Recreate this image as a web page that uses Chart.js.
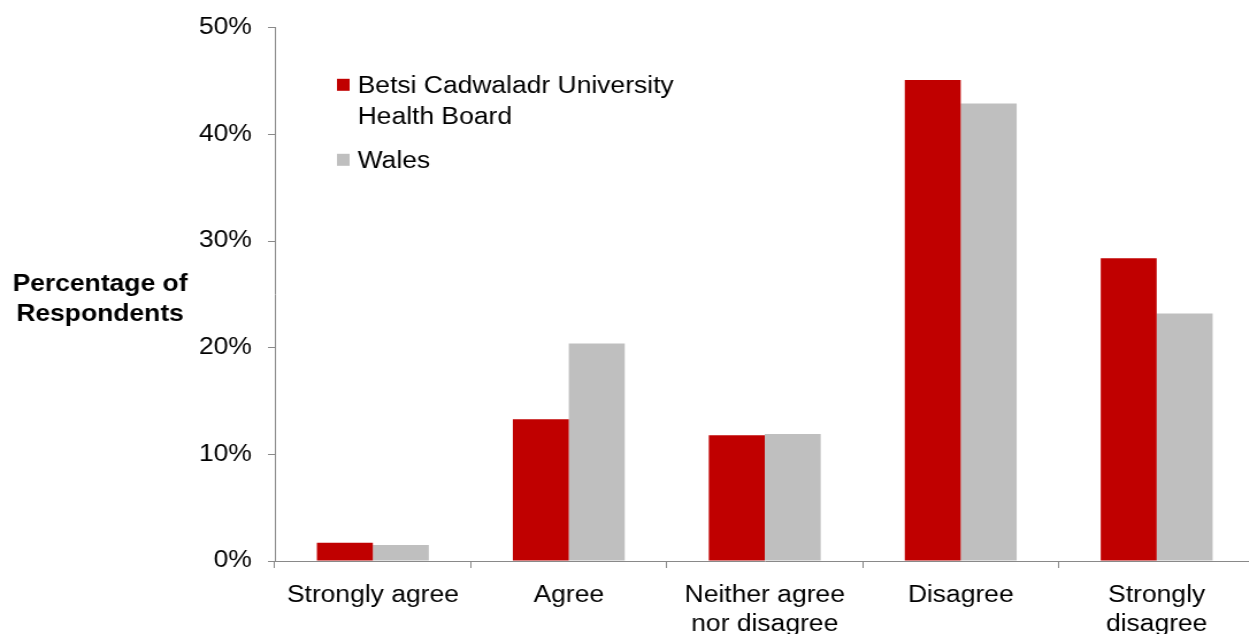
<!DOCTYPE html>
<html>
<head>
<meta charset="UTF-8" />
<title>Percentage of Respondents</title>
<script src="https://cdn.jsdelivr.net/npm/chart.js"></script>
<style>
  html, body { margin: 0; padding: 0; background: #fff; overflow: hidden; }
  /* the chart is laid out a bit narrower, then widened to fill the page */
  #wrap { width: 1091px; height: 634px; transform: scaleX(1.15); transform-origin: 0 0; }
</style>
</head>
<body>
<div id="wrap"><canvas id="responsesChart" width="1091" height="634"></canvas></div>
<script>
const categories = ["Strongly agree", "Agree", ["Neither agree", "nor disagree"], "Disagree", ["Strongly", "disagree"]];
const healthBoard = [1.7, 13.3, 11.8, 45.1, 28.4];
const wales = [1.5, 20.4, 11.9, 42.9, 23.2];
const yTicks = [0, 10, 20, 30, 40, 50];
const seriesNames = [["Betsi Cadwaladr University", "Health Board"], ["Wales"]];
const axisTitle = ["Percentage of", "Respondents"];

const FONT = "'Liberation Sans', Arial, sans-serif";
const AXIS = "#898989";

Chart.defaults.font.family = FONT;
Chart.defaults.font.size = 23;
Chart.defaults.color = "#000";

// horizontal axis title and the legend box are drawn by hand
const sideText = {
  id: "sideText",
  afterDraw(chart) {
    const { ctx, chartArea } = chart;
    ctx.save();
    ctx.fillStyle = "#000";
    ctx.font = "bold 23px " + FONT;
    ctx.textAlign = "center";
    const mid = (chartArea.top + chartArea.bottom) / 2;
    axisTitle.forEach((line, i) => ctx.fillText(line, 87, mid - 3 + i * 30));

    ctx.font = "23px " + FONT;
    ctx.textAlign = "left";
    let y = chartArea.top + 51;
    chart.data.datasets.forEach((ds, i) => {
      ctx.fillStyle = ds.backgroundColor;
      ctx.fillRect(chartArea.left + 54, y, 11, 12);
      ctx.fillStyle = "#000";
      seriesNames[i].forEach((line, j) => ctx.fillText(line, chartArea.left + 72, y + 14 + j * 31.5));
      y += seriesNames[i].length * 31.5 + 12;
    });
    ctx.restore();
  }
};

new Chart(document.getElementById("responsesChart"), {
  type: "bar",
  data: {
    labels: categories,
    datasets: [
      { label: seriesNames[0].join(" "), data: healthBoard, backgroundColor: "#c00000" },
      { label: seriesNames[1].join(" "), data: wales, backgroundColor: "#bfbfbf" }
    ]
  },
  options: {
    responsive: false,
    animation: false,
    layout: { padding: { top: 27, right: 0, bottom: 0, left: 0 } },
    datasets: { bar: { categoryPercentage: 0.571, barPercentage: 1 } },
    plugins: { legend: { display: false }, tooltip: { enabled: false } },
    scales: {
      x: {
        grid: { drawOnChartArea: false, color: AXIS, tickLength: 7 },
        border: { color: AXIS },
        ticks: { padding: 13, maxRotation: 0, autoSkip: false, font: { lineHeight: 1.26 } },
        afterFit: s => { s.height = 73; }
      },
      y: {
        min: 0,
        max: 50,
        afterBuildTicks: s => { s.ticks = yTicks.map(v => ({ value: v })); },
        grid: { drawOnChartArea: false, color: AXIS, tickLength: 6 },
        border: { color: AXIS },
        ticks: { padding: 14, callback: v => v + "%" },
        afterFit: s => { s.width = 239; }
      }
    }
  },
  plugins: [sideText]
});
</script>
</body>
</html>
